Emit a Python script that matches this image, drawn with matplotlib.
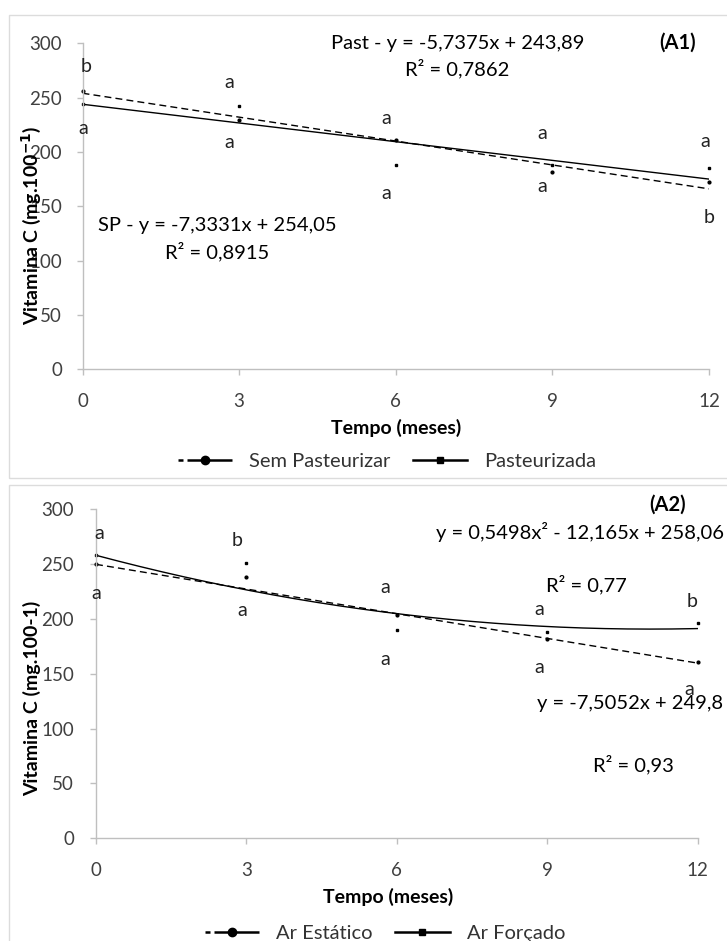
import matplotlib
matplotlib.use('Agg')
import matplotlib.pyplot as plt
from matplotlib.lines import Line2D
from matplotlib.patches import Rectangle
import numpy as np

plt.rcParams['font.family'] = ['Lato', 'DejaVu Sans']

# ---------------- data ----------------
months = [0, 3, 6, 9, 12]
month_ticks = [0, 3, 6, 9, 12]
vit_ticks = [0, 50, 100, 150, 200, 250, 300]

# (A1)
sp_values = [256, 229, 211, 182, 172]        # Sem Pasteurizar
past_values = [244, 242, 188, 188, 185]      # Pasteurizada
sp_coef = [-7.3331, 254.05]
past_coef = [-5.7375, 243.89]
a1_letter_x = [0.06, 0.02, 2.82, 2.82, 5.81, 5.81, 8.8, 8.8, 11.92, 12.0]
a1_letter_y = [279, 222, 264, 209, 231, 162, 217, 168, 210, 140]
a1_letter_txt = ['b', 'a', 'a', 'a', 'a', 'a', 'a', 'a', 'a', 'b']

# (A2)
estatico_values = [250, 238, 204, 182, 161]  # Ar Estático
forcado_values = [258, 251, 190, 188, 196]   # Ar Forçado
estatico_coef = [-7.5052, 249.8]
forcado_coef = [0.5498, -12.165, 258.06]
a2_letter_x = [0.07, 0.0, 2.82, 2.91, 5.76, 5.76, 8.83, 8.83, 11.89, 11.83]
a2_letter_y = [278, 223, 272, 208, 229, 163, 209, 156, 216, 136]
a2_letter_txt = ['a', 'a', 'b', 'a', 'a', 'a', 'a', 'a', 'b', 'a']

W, H = 727, 941
fig = plt.figure(figsize=(W / 100, H / 100), dpi=100)
fig.patch.set_facecolor('white')


def fx(px):
    return px / W


def fy(py):
    return 1 - py / H


# panel frames
for (x0, y0, x1, y1) in [(9, 15, 735, 478), (9, 485, 735, 950)]:
    fig.patches.append(Rectangle((fx(x0), fy(y1)), fx(x1) - fx(x0), fy(y0) - fy(y1),
                                 transform=fig.transFigure, fill=False,
                                 edgecolor='#dcdcdc', lw=1.0, zorder=0))

DASH = (0, (5, 3))
LEG_DASH = (0, (2, 1.6, 40, 0.1))
GRAY = '#bfbfbf'
TICKCOL = '#404040'


def style_axes(ax, ypad):
    ax.set_xlim(0, 12)
    ax.set_ylim(0, 300)
    ax.set_xticks(month_ticks)
    ax.set_yticks(vit_ticks)
    for s in ['top', 'right']:
        ax.spines[s].set_visible(False)
    for s in ['left', 'bottom']:
        ax.spines[s].set_color(GRAY)
        ax.spines[s].set_linewidth(1.0)
    ax.tick_params(axis='both', direction='out', length=4.5, width=1.0, color=GRAY,
                   labelsize=13.5, labelcolor=TICKCOL)
    ax.tick_params(axis='y', pad=ypad)
    ax.tick_params(axis='x', pad=12.5)
    ax.patch.set_alpha(0)


xs = np.linspace(0, 12, 300)

# ---------------- (A1) ----------------
ax1 = fig.add_axes([fx(82.5), fy(369.3), fx(709) - fx(82.5), fy(43.3) - fy(369.3)])
style_axes(ax1, 10.3)
ax1.plot(xs, np.polyval(sp_coef, xs), color='black', lw=1.0, ls=DASH)
ax1.plot(xs, np.polyval(past_coef, xs), color='black', lw=1.0, ls='-')
ax1.plot(months, sp_values, 'o', color='black', ms=2, clip_on=False)
ax1.plot(months, past_values, 's', color='black', ms=2, clip_on=False)
for x, y, t in zip(a1_letter_x, a1_letter_y, a1_letter_txt):
    ax1.text(x, y, t, ha='center', va='center', fontsize=14, color='#222222')

fig.text(fx(458), fy(43), 'Past - y = -5,7375x + 243,89', ha='center', va='center', fontsize=14.5)
fig.text(fx(457), fy(69), 'R² = 0,7862', ha='center', va='center', fontsize=14.5)
fig.text(fx(678), fy(43), '(A1)', ha='center', va='center', fontsize=14.5, fontweight='bold')
fig.text(fx(217), fy(226), 'SP - y = -7,3331x + 254,05', ha='center', va='center', fontsize=14.5)
fig.text(fx(217), fy(252), 'R² = 0,8915', ha='center', va='center', fontsize=14.5)
fig.text(fx(396), fy(428), 'Tempo (meses)', ha='center', va='center', fontsize=14, fontweight='bold')
fig.text(fx(31), fy(225), r'Vitamina C (mg.100$^{\mathbf{-1}}$)', ha='center', va='center',
         rotation=90, fontsize=14, fontweight='bold')

h_sp = Line2D([], [], color='black', ls=LEG_DASH, lw=1.8, marker='o', ms=6)
h_past = Line2D([], [], color='black', ls='-', lw=1.8, marker='s', ms=4)
fig.legend([h_sp, h_past], ['Sem Pasteurizar', 'Pasteurizada'], loc='center',
           bbox_to_anchor=(fx(387), fy(461)), ncol=2, frameon=True, facecolor='white',
           edgecolor='none', fontsize=14.5, handlelength=2.7, handletextpad=0.85,
           columnspacing=1.1, borderpad=0.1, framealpha=1, labelcolor='#333333')

# ---------------- (A2) ----------------
ax2 = fig.add_axes([fx(96), fy(838.3), fx(697.7) - fx(96), fy(509.3) - fy(838.3)])
style_axes(ax2, 11.3)
ax2.plot(xs, np.polyval(estatico_coef, xs), color='black', lw=1.0, ls=DASH)
ax2.plot(xs, np.polyval(forcado_coef, xs), color='black', lw=1.0, ls='-')
ax2.plot(months, estatico_values, 'o', color='black', ms=2, clip_on=False)
ax2.plot(months, forcado_values, 's', color='black', ms=2, clip_on=False)
for x, y, t in zip(a2_letter_x, a2_letter_y, a2_letter_txt):
    ax2.text(x, y, t, ha='center', va='center', fontsize=14, color='#222222')

fig.text(fx(668), fy(505), '(A2)', ha='center', va='center', fontsize=14.5, fontweight='bold')
fig.text(fx(724), fy(532), 'y = 0,5498x² - 12,165x + 258,06', ha='right', va='center', fontsize=14.5)
fig.text(fx(586), fy(585), 'R² = 0,77', ha='center', va='center', fontsize=14.5)
fig.text(fx(723), fy(703), 'y = -7,5052x + 249,8', ha='right', va='center', fontsize=14.5)
fig.text(fx(633), fy(765), 'R² = 0,93', ha='center', va='center', fontsize=14.5)
fig.text(fx(388), fy(897), 'Tempo (meses)', ha='center', va='center', fontsize=14, fontweight='bold')
fig.text(fx(32), fy(698), 'Vitamina C (mg.100-1)', ha='center', va='center',
         rotation=90, fontsize=14, fontweight='bold')

h_est = Line2D([], [], color='black', ls=LEG_DASH, lw=1.8, marker='o', ms=6)
h_for = Line2D([], [], color='black', ls='-', lw=1.8, marker='s', ms=4)
fig.legend([h_est, h_for], ['Ar Estático', 'Ar Forçado'], loc='center',
           bbox_to_anchor=(fx(385), fy(933)), ncol=2, frameon=True, facecolor='white',
           edgecolor='none', fontsize=14.5, handlelength=2.7, handletextpad=0.85,
           columnspacing=1.1, borderpad=0.1, framealpha=1, labelcolor='#333333')

fig.savefig('out.png', dpi=100, facecolor='white')
